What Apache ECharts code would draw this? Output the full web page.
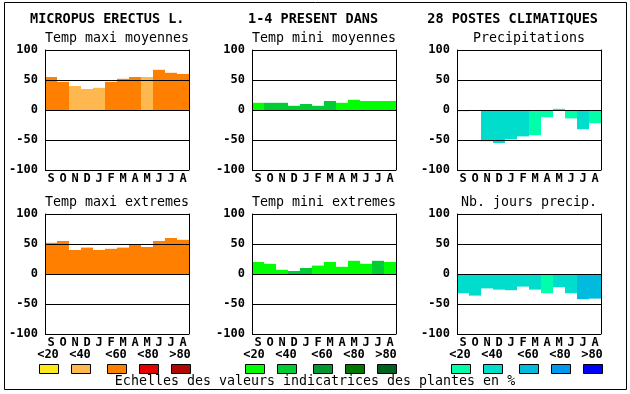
<!DOCTYPE html>
<html><head><meta charset="utf-8">
<script src="https://cdn.jsdelivr.net/npm/echarts@6/dist/echarts.min.js"></script>
<style>html,body{margin:0;padding:0;background:#fff}#c{width:630px;height:394px}</style>
</head><body><div id="c"></div>
<script>
const months = ['S','O','N','D','J','F','M','A','M','J','J','A'];
const yTicks = [-100,-50,0,50,100];
const legendLabels = ['<20','<40','<60','<80','>80'];

const redScale = ['#FFE818','#FFB850','#FF8000','#E80000','#B00800'];
const greenScale = ['#00FF00','#00CC33','#009930','#007800','#006020'];
const blueScale = ['#00FFAA','#00DDCC','#00BBDD','#0099EE','#0000FF'];

const tmaxMoyValues = [55,47,40,35,37,47,52,55,55,67,62,60];
const tmaxMoyClass  = [2,2,1,1,1,2,2,2,1,2,2,2];
const tminMoyValues = [12,12,12,7,10,7,15,12,17,15,15,15];
const tminMoyClass  = [0,1,1,1,1,1,1,0,0,0,0,0];
const precipValues  = [-2,0,-52,-55,-49,-44,-42,-12,2,-14,-32,-22];
const precipClass   = [0,0,1,1,1,1,0,0,0,0,1,0];
const tmaxExtValues = [52,55,40,44,40,42,44,50,45,55,60,57];
const tmaxExtClass  = [2,2,2,2,2,2,2,2,2,2,2,2];
const tminExtValues = [20,17,7,5,10,14,20,12,22,17,22,20];
const tminExtClass  = [0,0,0,1,1,0,0,0,0,0,1,0];
const nbjValues     = [-32,-36,-24,-26,-27,-21,-26,-32,-22,-32,-42,-41];
const nbjClass      = [1,1,1,1,1,1,1,0,1,1,2,2];

const panels = [
  {title:'Temp maxi moyennes', v:tmaxMoyValues, c:tmaxMoyClass, pal:redScale,   left:45,  top:50},
  {title:'Temp mini moyennes', v:tminMoyValues, c:tminMoyClass, pal:greenScale, left:252, top:50},
  {title:'Precipitations',     v:precipValues,  c:precipClass,  pal:blueScale,  left:457, top:50},
  {title:'Temp maxi extremes', v:tmaxExtValues, c:tmaxExtClass, pal:redScale,   left:45,  top:214},
  {title:'Temp mini extremes', v:tminExtValues, c:tminExtClass, pal:greenScale, left:252, top:214},
  {title:'Nb. jours precip.',  v:nbjValues,     c:nbjClass,     pal:blueScale,  left:457, top:214}
];
const W = 144, H = 120;
const mono = '"DejaVu Sans Mono", "Liberation Mono", monospace';

const grid = [], xAxis = [], yAxis = [], series = [], graphic = [];
panels.forEach((p, i) => {
  grid.push({left:p.left, top:p.top, width:W, height:H, show:false});
  xAxis.push({type:'category', gridIndex:i, data:months, boundaryGap:true,
    axisLine:{show:false}, axisTick:{show:false}, splitLine:{show:false},
    axisLabel:{color:'#000', fontFamily:mono, fontWeight:'bold', fontSize:12, margin:3, interval:0}});
  yAxis.push({type:'value', gridIndex:i, min:-100, max:100, interval:50, z:5,
    axisLine:{show:true, lineStyle:{color:'#000', width:1}}, axisTick:{show:false},
    splitLine:{show:true, lineStyle:{color:'#000', width:1}},
    axisLabel:{color:'#000', fontFamily:mono, fontWeight:'bold', fontSize:12, margin:7}});
  yAxis.push({type:'value', gridIndex:i, min:-100, max:100, interval:50, position:'right', z:5,
    axisLine:{show:true, onZero:false, lineStyle:{color:'#000', width:1}}, axisTick:{show:false},
    splitLine:{show:false}, axisLabel:{show:false}});
  series.push({type:'bar', xAxisIndex:i, yAxisIndex:2*i, barCategoryGap:'0%', z:2, silent:true,
    data:p.v.map((v, k) => ({value:v, itemStyle:{color:p.pal[p.c[k]]}}))});
  graphic.push({type:'text', z:10, style:{text:p.title, x:p.left + W/2, y:p.top - 11,
    font:'13.3px ' + mono, fill:'#000', textAlign:'center', textVerticalAlign:'middle'}});
});

// legend rows
const scales = [redScale, greenScale, blueScale];
const swatchX = [[39,71,107,139,171],[245,277,313,345,377],[451,483,519,551,583]];
scales.forEach((pal, s) => {
  pal.forEach((col, k) => {
    const x = swatchX[s][k];
    graphic.push({type:'rect', z:10, shape:{x:x+0.5, y:364.5, width:19, height:9},
      style:{fill:col, stroke:'#000', lineWidth:1}});
    graphic.push({type:'text', z:10, style:{text:legendLabels[k], x:x+9, y:355,
      font:'bold 12px ' + mono, fill:'#000', textAlign:'center', textVerticalAlign:'middle'}});
  });
});

graphic.push({type:'rect', z:0, shape:{x:4.5, y:2.5, width:622, height:387},
  style:{fill:'none', stroke:'#000', lineWidth:1}});
graphic.push({type:'text', z:10, style:{text:'Echelles des valeurs indicatrices des plantes en %',
  x:315, y:382, font:'13.3px ' + mono, fill:'#000', textAlign:'center', textVerticalAlign:'middle'}});
graphic.push({type:'text', z:10, style:{text:'MICROPUS ERECTUS L.', x:30, y:19,
  font:'bold 13.5px ' + mono, fill:'#000', textAlign:'left', textVerticalAlign:'middle'}});
graphic.push({type:'text', z:10, style:{text:'1-4 PRESENT DANS', x:248, y:19,
  font:'bold 13.5px ' + mono, fill:'#000', textAlign:'left', textVerticalAlign:'middle'}});
graphic.push({type:'text', z:10, style:{text:'28 POSTES CLIMATIQUES', x:598, y:19,
  font:'bold 13.5px ' + mono, fill:'#000', textAlign:'right', textVerticalAlign:'middle'}});

const chart = echarts.init(document.getElementById('c'), null, {renderer:'canvas'});
chart.setOption({animation:false, backgroundColor:'#fff', grid, xAxis, yAxis, series, graphic});
</script>
</body></html>
